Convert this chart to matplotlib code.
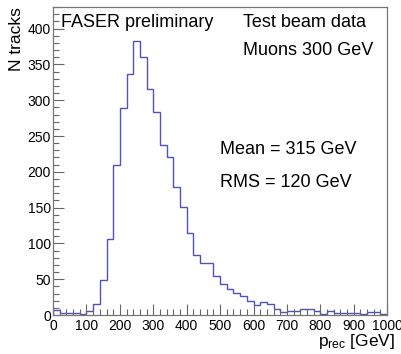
import numpy as np
import matplotlib
matplotlib.use("Agg")
import matplotlib.pyplot as plt
import matplotlib.transforms as mtransforms
from matplotlib.ticker import MultipleLocator

plt.rcParams["font.family"] = ["Liberation Sans", "DejaVu Sans"]
plt.rcParams["mathtext.fontset"] = "custom"
plt.rcParams["mathtext.rm"] = "Liberation Sans"
plt.rcParams["mathtext.it"] = "Liberation Sans"

# reconstructed momentum histogram, 20 GeV bins from 0 to 1000
bin_width = 20
counts = [7, 3, 3, 3, 1, 5, 15, 49, 106, 209,
          289, 336, 383, 360, 315, 283, 237, 220, 179, 151,
          115, 84, 72, 73, 54, 44, 37, 31, 26, 20,
          14, 18, 15, 8, 4, 6, 6, 8, 8, 5,
          1, 5, 3, 3, 3, 3, 1, 4, 4, 1]
edges = np.arange(len(counts) + 1) * bin_width

fig = plt.figure(figsize=(4.02, 3.54), dpi=100)
ax = fig.add_axes([0.132, 0.110, 0.831, 0.870])

ax.stairs(counts, edges, baseline=0, color="#5050c0", linewidth=1.0)

ax.set_xlim(0, 1000)
ax.set_ylim(0, 430)

ax.xaxis.set_major_locator(MultipleLocator(100))
ax.xaxis.set_minor_locator(MultipleLocator(20))
ax.yaxis.set_major_locator(MultipleLocator(50))
ax.yaxis.set_minor_locator(MultipleLocator(10))
ax.tick_params(which="both", direction="in", color="#666666", labelsize=10)
ax.tick_params(which="major", length=8, width=0.8)
ax.tick_params(which="minor", length=4, width=0.8)
ax.tick_params(axis="x", pad=3)
ax.tick_params(axis="y", pad=1.5)
for s in ax.spines.values():
    s.set_color("#777777")
    s.set_linewidth(0.9)

# keep the last x label inside the picture, as ROOT does
fig.canvas.draw()
last = ax.get_xticklabels()[-1]
last.set_transform(last.get_transform() + mtransforms.ScaledTranslation(-3 / 72, 0, fig.dpi_scale_trans))

ax.set_ylabel("N tracks", fontsize=12.5, loc="top")
ax.yaxis.set_label_coords(-0.088, 1.0)
ax.set_xlabel(r"$\mathrm{p_{rec}}$ [GeV]", fontsize=12.5, loc="right")
ax.xaxis.set_label_coords(1.024, -0.055)

ax.text(0.024, 0.951, "FASER preliminary", transform=ax.transAxes,
        fontsize=13, va="center", ha="left")
ax.text(0.569, 0.951, "Test beam data", transform=ax.transAxes,
        fontsize=13, va="center", ha="left")
ax.text(0.569, 0.860, "Muons 300 GeV", transform=ax.transAxes,
        fontsize=13, va="center", ha="left")
ax.text(0.50, 0.536, "Mean = 315 GeV", transform=ax.transAxes,
        fontsize=13, va="center", ha="left")
ax.text(0.50, 0.432, "RMS = 120 GeV", transform=ax.transAxes,
        fontsize=13, va="center", ha="left")

fig.savefig("out.png", dpi=100)
